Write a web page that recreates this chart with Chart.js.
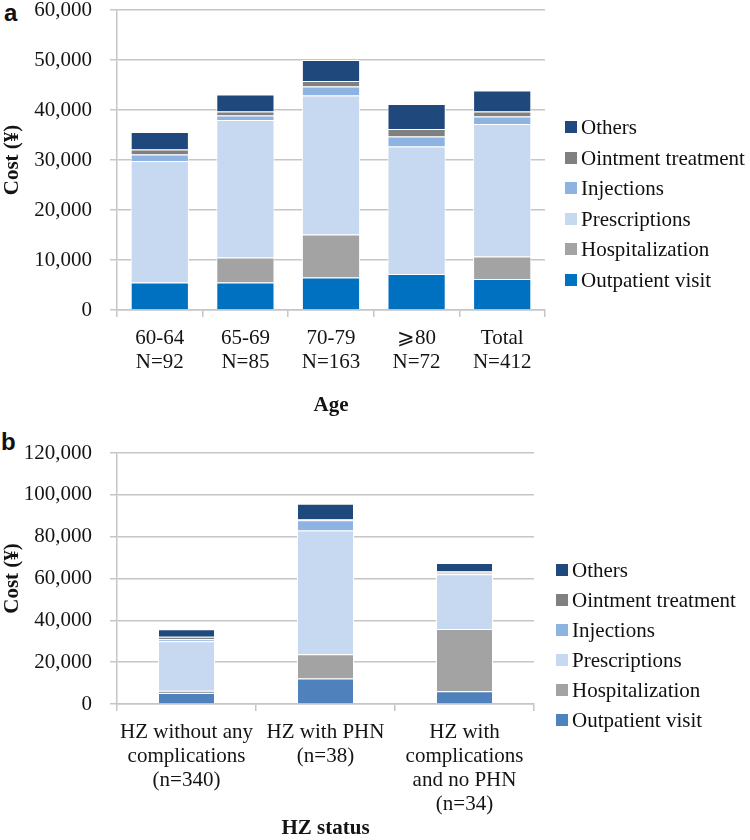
<!DOCTYPE html>
<html>
<head>
<meta charset="utf-8">
<script src="https://cdn.jsdelivr.net/npm/chart.js@4.4.1/dist/chart.umd.min.js"></script>
<style>
    html, body { margin: 0; padding: 0; background: #fff; width: 750px; height: 840px; overflow: hidden; }
    body { position: relative; font-family: 'Liberation Serif', 'Times New Roman', serif; color: #111; }
    canvas { position: absolute; left: 0; }
    .tag { position: absolute; font-family: 'Liberation Sans', Arial, sans-serif; font-weight: bold; font-size: 24px; line-height: 24px; }
    .key { position: absolute; white-space: nowrap; font-size: 21px; line-height: 22px; }
    .key span { display: inline-block; width: 12px; height: 12px; margin-right: 4px; vertical-align: 1px; }
</style>
</head>
<body>
<div class="tag" style="left:4px; top:1px;">a</div>
<canvas id="ageChart" width="750" height="418" style="top:0;"></canvas>
<div class="tag" style="left:1px; top:430px;">b</div>
<canvas id="hzChart" width="750" height="425" style="top:415px;"></canvas>

<script>
// Panel a - cost by age group
const ageLabels = [['60-64', 'N=92'], ['65-69', 'N=85'], ['70-79', 'N=163'], ['\u2A7E80', 'N=72'], ['Total', 'N=412']];
const ageOutpatient = [5500, 5500, 6500, 7200, 6200];
const ageHospital = [0, 5000, 8600, 0, 4500];
const agePrescriptions = [24300, 27500, 27800, 25500, 26500];
const ageInjections = [1300, 900, 1800, 2000, 1500];
const ageOintment = [1000, 800, 1100, 1500, 1000];
const ageOthers = [3500, 3400, 4200, 5000, 4200];

// Panel b - cost by HZ status
const hzLabels = [['HZ without any', 'complications', '(n=340)'], ['HZ with PHN', '(n=38)'], ['HZ with', 'complications', 'and no PHN', '(n=34)']];
const hzOutpatient = [5300, 12200, 6100];
const hzHospital = [1000, 11600, 29800];
const hzPrescriptions = [23700, 59200, 26100];
const hzInjections = [1000, 4800, 900];
const hzOintment = [1200, 500, 700];
const hzOthers = [3500, 7400, 3800];

const costTicksA = { max: 60000, step: 10000 };
const costTicksB = { max: 120000, step: 20000 };

const serif = "'Liberation Serif', 'Times New Roman', serif";
const gridGrey = '#c6c6c6';
const textColor = '#141414';

function buildSets(outColor, values) {
    const names = ['Outpatient visit', 'Hospitalization', 'Prescriptions', 'Injections', 'Ointment treatment', 'Others'];
    const colors = [outColor, '#a3a3a3', '#c6d9f0', '#8db3e2', '#808080', '#1f497d'];
    return values.map((v, i) => ({
        label: names[i],
        data: v,
        backgroundColor: colors[i],
        borderColor: '#ffffff',
        borderWidth: 1
    }));
}

// xHeight: fixed height of the category axis block (labels + title)
function makeChart(id, labels, datasets, yRange, xTitle, barPct, pad, xHeight, titleBottom) {
    return new Chart(document.getElementById(id).getContext('2d'), {
        type: 'bar',
        data: { labels: labels, datasets: datasets },
        options: {
            responsive: false,
            animation: false,
            layout: { padding: pad },
            datasets: { bar: { categoryPercentage: 1, barPercentage: barPct } },
            plugins: { legend: { display: false }, tooltip: { enabled: false } },
            scales: {
                x: {
                    stacked: true,
                    afterFit: (s) => { s.height = xHeight; },
                    grid: { drawOnChartArea: false, drawTicks: true, tickLength: 7, color: gridGrey, lineWidth: 1.5 },
                    border: { color: gridGrey, width: 1.5 },
                    ticks: {
                        color: textColor, padding: 9, maxRotation: 0, minRotation: 0, autoSkip: false,
                        font: { family: serif, size: 21, lineHeight: 1.143 }
                    },
                    title: {
                        display: true, text: xTitle, color: textColor, padding: { top: 0, bottom: titleBottom },
                        font: { family: serif, size: 21, weight: 'bold' }
                    }
                },
                y: {
                    stacked: true,
                    min: 0,
                    max: yRange.max,
                    afterFit: (s) => { s.width = 117; s.paddingTop = 10; s.paddingBottom = 10; },
                    grid: { color: gridGrey, lineWidth: 1.5, tickLength: 7 },
                    border: { color: gridGrey, width: 1.5 },
                    ticks: {
                        stepSize: yRange.step, color: textColor, padding: 18,
                        font: { family: serif, size: 21, lineHeight: 1 },
                        callback: (v) => v.toLocaleString('en-US')
                    },
                    title: {
                        display: true, text: 'Cost (\u00A5)', color: textColor, padding: 0,
                        font: { family: serif, size: 21, weight: 'bold' }
                    }
                }
            }
        }
    });
}

function drawKey(chart, left, firstY, gap) {
    const sets = chart.data.datasets.slice().reverse();
    sets.forEach((ds, i) => {
        const el = document.createElement('div');
        el.className = 'key';
        el.style.left = left + 'px';
        el.style.top = (firstY + i * gap - 11) + 'px';
        el.innerHTML = '<span style="background:' + ds.backgroundColor + '"></span>' + ds.label;
        document.body.appendChild(el);
    });
}

const ageChart = makeChart('ageChart', ageLabels,
    buildSets('#0070c0', [ageOutpatient, ageHospital, agePrescriptions, ageInjections, ageOintment, ageOthers]),
    costTicksA, 'Age', 0.68, { top: 10, right: 205, bottom: 0, left: 0 }, 108, 0);

const hzChart = makeChart('hzChart', hzLabels,
    buildSets('#4f81bd', [hzOutpatient, hzHospital, hzPrescriptions, hzInjections, hzOintment, hzOthers]),
    costTicksB, 'HZ status', 0.41, { top: 38, right: 216, bottom: 0, left: 0 }, 136, -1);

drawKey(ageChart, 565, 127, 30.5);
drawKey(hzChart, 556, 570, 30);
</script>
</body>
</html>
